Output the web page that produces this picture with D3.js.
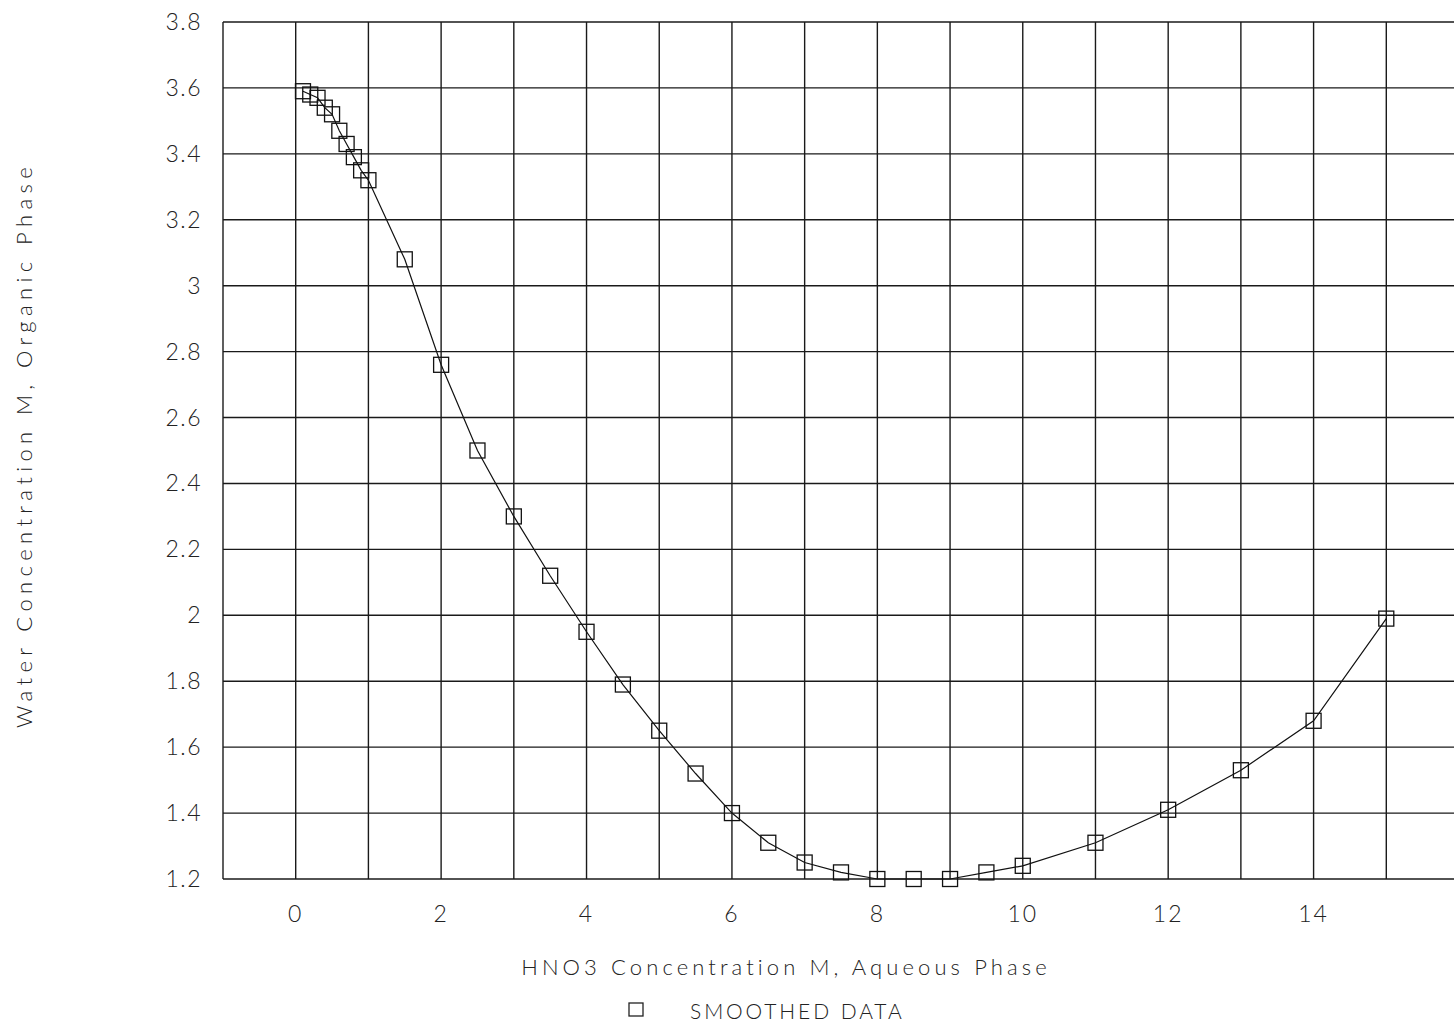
<!DOCTYPE html>
<html>
<head>
<meta charset="utf-8">
<script src="https://cdn.jsdelivr.net/npm/d3@7"></script>
<style>
  body { margin: 0; background: #fff; }
  svg text { font-family: Lato, "Liberation Sans", sans-serif; font-weight: 300; fill: #222; }
</style>
</head>
<body>
<div id="chart"></div>
<script>
// HNO3 concentration (aqueous) vs water concentration (organic)
const hno3 = [0.1, 0.2, 0.3, 0.4, 0.5, 0.6, 0.7, 0.8, 0.9, 1.0,
  1.5, 2, 2.5, 3, 3.5, 4, 4.5, 5, 5.5, 6, 6.5, 7, 7.5, 8, 8.5, 9, 9.5, 10, 11, 12, 13, 14, 15];
const water = [3.59, 3.58, 3.57, 3.54, 3.52, 3.47, 3.43, 3.39, 3.35, 3.32,
  3.08, 2.76, 2.50, 2.30, 2.12, 1.95, 1.79, 1.65, 1.52, 1.40, 1.31, 1.25, 1.22, 1.20, 1.20, 1.20, 1.22, 1.24, 1.31, 1.41, 1.53, 1.68, 1.99];
const xTickLabels = [0, 2, 4, 6, 8, 10, 12, 14];
const yTickLabels = [3.8, 3.6, 3.4, 3.2, 3, 2.8, 2.6, 2.4, 2.2, 2, 1.8, 1.6, 1.4, 1.2];
const xTitle = 'HNO3 Concentration M, Aqueous Phase';
const yTitle = 'Water Concentration M, Organic Phase';
const legendLabel = 'SMOOTHED DATA';

const width = 1454, height = 1026;
const svg = d3.select('#chart').append('svg')
  .attr('width', width).attr('height', height);

const x = d3.scaleLinear().domain([-1, 16]).range([223, 1459]);
const y = d3.scaleLinear().domain([1.2, 3.8]).range([879, 22]);

const grid = svg.append('g').attr('stroke', '#1a1a1a').attr('stroke-width', 1.4);
grid.selectAll('line.v').data(d3.range(-1, 17)).enter().append('line')
  .attr('x1', d => x(d)).attr('x2', d => x(d))
  .attr('y1', y(3.8)).attr('y2', y(1.2));
grid.selectAll('line.h').data(d3.range(1.2, 3.81, 0.2)).enter().append('line')
  .attr('x1', x(-1)).attr('x2', x(16))
  .attr('y1', d => y(d)).attr('y2', d => y(d));

// tick labels
svg.append('g').selectAll('text').data(xTickLabels).enter().append('text')
  .attr('x', d => x(d)).attr('y', 922)
  .attr('text-anchor', 'middle').attr('font-size', 23).attr('letter-spacing', 2)
  .text(d => d);
svg.append('g').selectAll('text').data(yTickLabels).enter().append('text')
  .attr('x', 202).attr('y', d => y(d) + 8)
  .attr('text-anchor', 'end').attr('font-size', 23).attr('letter-spacing', 1.5)
  .text(d => d);

// curve and markers
const pts = hno3.map((v, i) => [v, water[i]]);
svg.append('path').datum(pts)
  .attr('fill', 'none').attr('stroke', '#111').attr('stroke-width', 1.2)
  .attr('d', d3.line().x(d => x(d[0])).y(d => y(d[1])));
svg.append('g').selectAll('rect').data(pts).enter().append('rect')
  .attr('x', d => x(d[0]) - 7.5).attr('y', d => y(d[1]) - 7.5)
  .attr('width', 15).attr('height', 15)
  .attr('fill', 'none').attr('stroke', '#111').attr('stroke-width', 1.3);

// axis titles
svg.append('text').attr('x', 786).attr('y', 975)
  .attr('text-anchor', 'middle').attr('font-size', 22).attr('letter-spacing', 4.1)
  .text(xTitle);
svg.append('text').attr('transform', 'translate(32,445) rotate(-90)')
  .attr('text-anchor', 'middle').attr('font-size', 22).attr('letter-spacing', 5.4)
  .text(yTitle);

// legend
svg.append('rect').attr('x', 629).attr('y', 1003).attr('width', 14).attr('height', 13)
  .attr('fill', 'none').attr('stroke', '#222').attr('stroke-width', 1.3);
svg.append('text').attr('x', 690).attr('y', 1019)
  .attr('font-size', 21).attr('letter-spacing', 2.9)
  .text(legendLabel);
</script>
</body>
</html>
